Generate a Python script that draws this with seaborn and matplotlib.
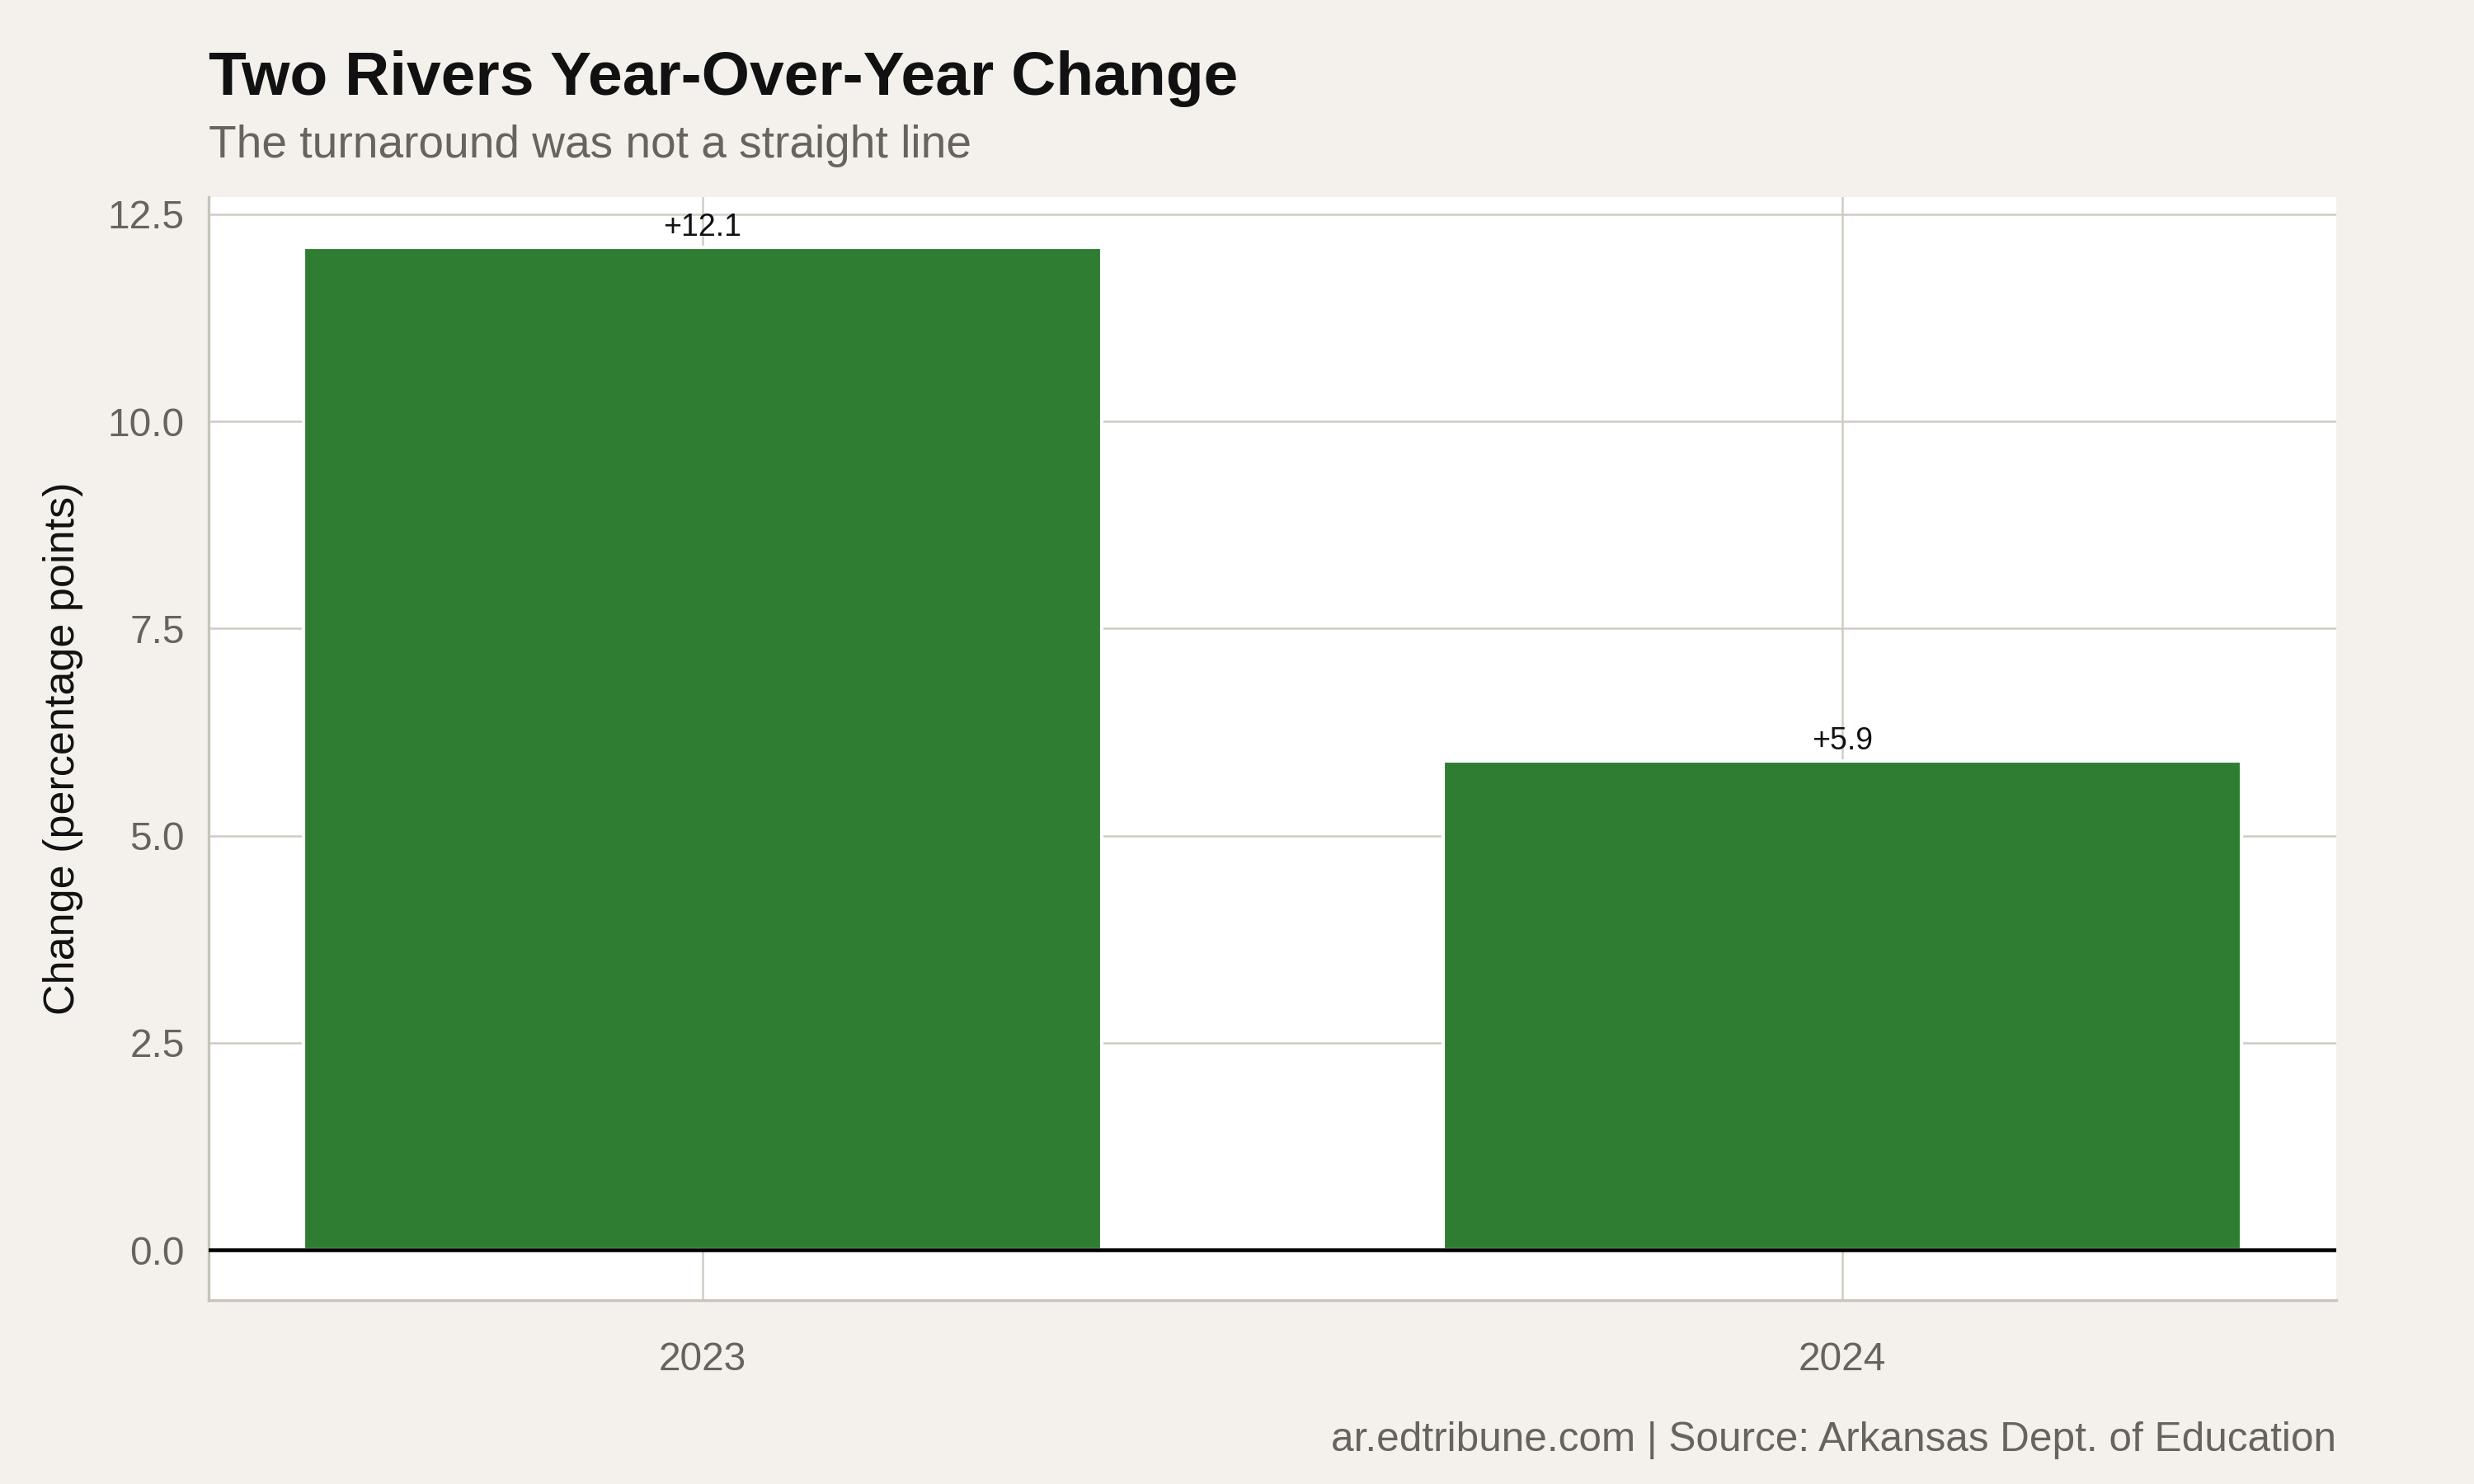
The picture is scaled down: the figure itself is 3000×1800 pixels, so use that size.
import matplotlib.pyplot as plt
import seaborn as sns
import numpy as np
import pandas as pd

years = ["2023", "2024"]
changes = [12.1, 5.9]
y_ticks = [0.0, 2.5, 5.0, 7.5, 10.0, 12.5]

BG = "#f4f1ec"
GREEN = "#2e7d32"
GRID = "#d0ccc4"
GRAY_TEXT = "#67635e"


def make_chart():
    sns.set_theme(style="whitegrid")
    plt.rcParams["font.family"] = ["Liberation Sans", "DejaVu Sans"]

    df = pd.DataFrame({"year": years, "change": changes})

    fig = plt.figure(figsize=(10, 6), dpi=300, facecolor=BG)
    ax = fig.add_axes([0.0843, 0.124, 0.86, 0.743])
    ax.set_facecolor("white")

    sns.barplot(data=df, x="year", y="change", color=GREEN, saturation=1,
                width=0.7, ax=ax, zorder=2)

    for i, v in enumerate(changes):
        ax.annotate(f"+{v:.1f}", (i, v), xytext=(0, 1.5), textcoords="offset points",
                    ha="center", va="bottom", fontsize=9, color="#111111", zorder=4)

    ax.axhline(0, color="black", linewidth=1.1, zorder=3)

    ax.set_xlim(-0.4335, 1.4335)
    ax.set_ylim(-0.605, 12.705)
    ax.set_yticks(y_ticks)
    ax.set_yticklabels([f"{t:.1f}" for t in y_ticks])

    ax.grid(True, color=GRID, linewidth=0.6, zorder=0)
    ax.set_axisbelow(True)
    for side in ["top", "right"]:
        ax.spines[side].set_visible(False)
    for side in ["left", "bottom"]:
        ax.spines[side].set_visible(True)
        ax.spines[side].set_color("#c8c4bc")
        ax.spines[side].set_linewidth(0.8)

    ax.tick_params(axis="both", which="major", length=4, width=0.6, color="#c8c4bc",
                   labelsize=11.5, labelcolor=GRAY_TEXT, pad=3)
    ax.tick_params(axis="x", pad=8)

    ax.set_xlabel("")
    ax.set_ylabel("Change (percentage points)", fontsize=12.5, color="#111111", labelpad=7)

    fig.text(0.0843, 0.936, "Two Rivers Year-Over-Year Change", fontsize=18,
             fontweight="bold", color="#111111", ha="left", va="baseline")
    fig.text(0.0843, 0.894, "The turnaround was not a straight line", fontsize=13.2,
             color=GRAY_TEXT, ha="left", va="baseline")
    fig.text(0.9443, 0.022, "ar.edtribune.com | Source: Arkansas Dept. of Education",
             fontsize=11.9, color=GRAY_TEXT, ha="right", va="baseline")

    fig.savefig("out.png", dpi=300, facecolor=BG)


if __name__ == "__main__":
    make_chart()
